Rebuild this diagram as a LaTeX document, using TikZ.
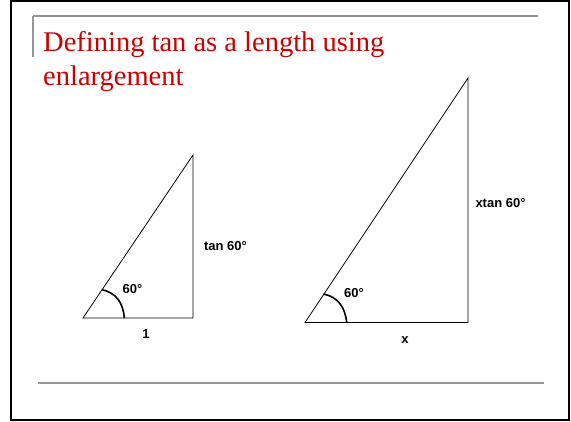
\documentclass[tikz,border=0pt]{standalone}
\usepackage{fontspec}
\setmainfont{Liberation Serif}
\newfontfamily\lblfont{Liberation Sans}
\definecolor{titlered}{RGB}{204,0,0}
\definecolor{rulegray}{RGB}{150,150,150}
\begin{document}
\begin{tikzpicture}[x=1pt,y=-1pt,
  tri/.style={draw=black,line width=0.8pt},
  anglearc/.style={draw=black,line width=1.6pt},
  lbl/.style={font=\lblfont\bfseries\fontsize{13}{15}\selectfont,inner sep=0pt},
  titletext/.style={anchor=base west,inner sep=0pt,text=titlered,font=\fontsize{28.5}{34}\selectfont},
  grayrule/.style={draw=rulegray}]
\useasboundingbox (0,0) rectangle (571,422);
\fill[white] (0,0) rectangle (571,422);
\draw[line width=2pt] (11,1) rectangle (569,420);
% header rules
\draw[grayrule,line width=1.2pt] (33,16) -- (538,16);
\draw[grayrule,line width=1.2pt] (33,16) -- (33,57);
\draw[grayrule,line width=2pt] (38,383) -- (544,383);
% title
\node[titletext] (t1) at (43,52) {Defining tan as a length using};
\node[titletext] (t2) at (43,86) {enlargement};
% small triangle
\coordinate (a1) at (83,318);
\coordinate (b1) at (193,318);
\coordinate (c1) at (193,155);
\draw[tri] (a1) -- (b1) -- (c1) -- cycle;
\coordinate (s1) at (101.7,289.5);
\coordinate (e1) at (124.3,318);
\draw[anglearc] (s1) .. controls (116,293) and (123,302) .. (e1);
\node[lbl] (ang1) at (132.5,289) {60°};
\node[lbl] (base1) at (146,334) {1};
\node[lbl] (side1) at (225.5,246) {tan 60°};
% large triangle
\coordinate (a2) at (305,322.5);
\coordinate (b2) at (468,322.5);
\coordinate (c2) at (468,78);
\draw[tri] (a2) -- (b2) -- (c2) -- cycle;
\coordinate (s2) at (323.5,294);
\coordinate (e2) at (346.7,322.5);
\draw[anglearc] (s2) .. controls (338,297) and (345,307) .. (e2);
\node[lbl] (ang2) at (354,293) {60°};
\node[lbl] (base2) at (405,340) {x};
\node[lbl] (side2) at (500.5,203) {xtan 60°};
\end{tikzpicture}
\end{document}
